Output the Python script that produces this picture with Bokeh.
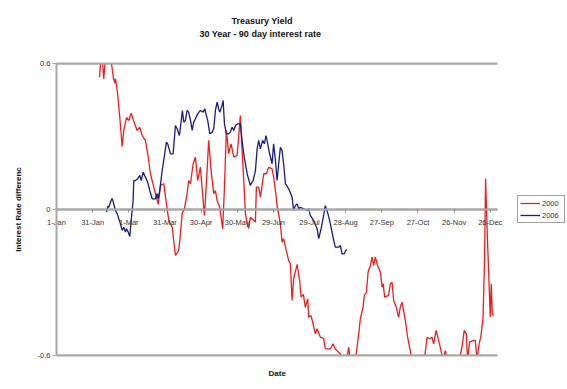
from bokeh.plotting import figure
from bokeh.models import (Range1d, FixedTicker, NumeralTickFormatter, LinearAxis,
                          Legend, LegendItem, Title, ColumnDataSource)
from bokeh.embed import file_html
from bokeh.resources import INLINE

# ---- data (x = days since 1-Jan) ----
tick_days = [0, 30, 60, 90, 120, 150, 180, 210, 240, 270, 300, 330, 360]
tick_labels = ["1-Jan", "31-Jan", "1-Mar", "31-Mar", "30-Apr", "30-May", "29-Jun",
               "29-Jul", "28-Aug", "27-Sep", "27-Oct", "26-Nov", "26-Dec"]
y_ticks = [-0.6, 0, 0.6]
x_start, x_end = 0, 366          # date axis: 1-Jan .. 1-Jan of next year
y_min, y_max = -0.6, 0.6

days_2000 = [35.7, 36.9, 38.2, 39.2, 40.6, 44.8, 47.3, 48.4, 48.9, 50.4,
             52.5, 54.5, 55.8, 58.1, 60.0, 62.0, 63.9, 66.9, 69.1, 71.1,
             73.8, 75.7, 78.0, 80.7, 84.4, 86.3, 89.0, 91.2, 93.2, 96.0,
             98.7, 101.4, 102.9, 104.3, 106.2, 108.4, 109.7, 111.2, 113.4, 115.3,
             117.2, 119.4, 121.7, 122.8, 125.0, 126.3, 128.3, 130.5, 131.9, 133.3,
             135.5, 137.9, 139.4, 141.0, 142.9, 144.9, 147.1, 149.9, 152.6, 154.0,
             155.4, 156.8, 158.2, 159.5, 160.9, 163.7, 165.1, 165.9, 167.8, 169.2,
             172.0, 174.2, 176.1, 178.9, 180.2, 181.7, 183.1, 185.8, 187.2, 188.5,
             190.0, 192.7, 194.1, 195.5, 196.8, 199.7, 201.8, 203.0, 204.9, 206.5,
             208.5, 209.3, 211.3, 212.9, 214.8, 216.3, 219.0, 221.7, 223.1, 227.3,
             229.5, 231.4, 232.8, 235.6, 236.4, 241.1, 242.5, 243.9, 248.0, 249.4,
             250.8, 252.2, 254.4, 255.5, 257.2, 258.6, 260.5, 261.9, 263.2, 264.6,
             266.5, 268.8, 270.2, 271.2, 272.3, 275.6, 277.1, 278.5, 279.8, 282.0,
             283.9, 285.3, 286.8, 289.5, 291.4, 293.6, 295.0, 304.7, 306.1, 307.5,
             309.7, 311.6, 313.0, 315.0, 317.1, 318.5, 320.8, 322.7, 324.1, 333.7,
             335.1, 336.5, 338.4, 340.1, 341.2, 342.8, 346.2, 347.6, 349.0, 350.3,
             352.3, 354.0, 355.3, 356.1, 357.8, 360.0, 360.8, 361.7, 362.7]
vals_2000 = [0.544, 0.62, 0.61, 0.537, 0.62, 0.63, 0.538, 0.52, 0.538, 0.489,
             0.379, 0.259, 0.325, 0.378, 0.366, 0.396, 0.366, 0.325, 0.338, 0.304,
             0.284, 0.229, 0.147, 0.092, 0.021, 0.099, 0.106, 0.025, -0.045, -0.073,
             -0.189, -0.169, -0.099, -0.016, 0.004, 0.065, 0.119, 0.106, 0.188, 0.215,
             0.119, 0.174, 0.037, -0.025, 0.160, 0.284, 0.160, 0.065, 0.078, 0.037,
             0.009, -0.079, 0.092, 0.325, 0.230, 0.270, 0.215, 0.222, 0.386, 0.242,
             0.119, -0.018, -0.058, -0.078, -0.032, -0.045, -0.052, 0.092, 0.092, 0.051,
             0.147, 0.147, 0.174, 0.167, 0.133, 0.078, 0.016, -0.059, -0.134, -0.120,
             -0.155, -0.210, -0.222, -0.374, -0.284, -0.226, -0.292, -0.360, -0.349, -0.402,
             -0.367, -0.443, -0.436, -0.470, -0.511, -0.490, -0.525, -0.530, -0.573, -0.573,
             -0.552, -0.573, -0.580, -0.593, -0.61, -0.61, -0.566, -0.62, -0.62, -0.566,
             -0.511, -0.449, -0.402, -0.353, -0.340, -0.258, -0.230, -0.196, -0.230, -0.196,
             -0.230, -0.258, -0.319, -0.305, -0.360, -0.353, -0.305, -0.299, -0.374, -0.402,
             -0.443, -0.402, -0.381, -0.456, -0.525, -0.580, -0.62, -0.62, -0.586, -0.525,
             -0.531, -0.525, -0.552, -0.497, -0.538, -0.566, -0.62, -0.580, -0.62, -0.62,
             -0.60, -0.566, -0.497, -0.511, -0.62, -0.545, -0.538, -0.538, -0.62, -0.566,
             -0.518, -0.443, -0.196, 0.126, -0.141, -0.443, -0.305, -0.429, -0.436]

days_2006 = [41.5, 42.6, 43.4, 44.8, 46.2, 47.5, 48.9, 50.4, 51.7, 53.1,
             54.5, 55.8, 57.2, 58.1, 59.5, 60.8, 62.0, 63.6, 64.1, 65.5,
             67.4, 69.1, 70.3, 71.9, 73.8, 75.7, 77.4, 79.4, 82.1, 83.5,
             84.4, 85.7, 87.7, 89.6, 91.2, 92.3, 94.6, 96.8, 98.7, 100.1,
             102.0, 103.4, 104.5, 105.6, 107.0, 108.4, 109.7, 111.2, 112.6, 113.9,
             115.3, 117.2, 119.4, 121.7, 123.0, 124.4, 125.5, 127.2, 129.2, 130.5,
             131.9, 133.3, 134.6, 135.5, 137.4, 138.3, 139.4, 141.0, 142.9, 144.3,
             145.7, 147.1, 148.5, 150.4, 152.6, 154.0, 155.4, 158.2, 160.9, 163.2,
             165.1, 166.5, 167.8, 169.2, 171.1, 172.5, 173.9, 175.3, 176.9, 178.9,
             180.2, 181.7, 183.1, 184.4, 185.8, 187.2, 188.5, 190.0, 192.7, 195.5,
             196.8, 198.2, 199.7, 201.0, 202.4, 205.1, 208.0, 209.3, 210.7, 213.4,
             216.3, 217.6, 219.6, 221.2, 223.1, 225.0, 227.3, 229.5, 231.4, 234.2,
             235.6, 237.0, 238.9, 240.0, 241.1]
vals_2006 = [-0.011, 0.014, 0.009, 0.030, 0.046, 0.023, -0.004, -0.018, -0.038, -0.059,
             -0.086, -0.073, -0.093, -0.079, -0.093, -0.111, -0.045, 0.037, 0.119, 0.119,
             0.126, 0.140, 0.119, 0.153, 0.133, 0.112, 0.078, 0.044, 0.044, 0.065,
             0.044, 0.078, 0.160, 0.222, 0.277, 0.270, 0.229, 0.229, 0.345, 0.332,
             0.304, 0.359, 0.407, 0.359, 0.366, 0.407, 0.400, 0.366, 0.325, 0.359,
             0.373, 0.393, 0.407, 0.400, 0.414, 0.386, 0.366, 0.311, 0.318, 0.332,
             0.407, 0.441, 0.414, 0.400, 0.427, 0.448, 0.352, 0.311, 0.311, 0.318,
             0.338, 0.325, 0.345, 0.352, 0.352, 0.284, 0.229, 0.147, 0.099, 0.119,
             0.160, 0.249, 0.284, 0.249, 0.284, 0.270, 0.304, 0.270, 0.229, 0.188,
             0.270, 0.201, 0.119, 0.188, 0.256, 0.242, 0.188, 0.106, 0.085, 0.051,
             -0.004, 0.016, 0.023, 0.003, 0.009, 0.003, -0.004, 0.003, -0.025, -0.045,
             -0.079, -0.120, -0.079, -0.038, 0.016, -0.012, -0.059, -0.114, -0.155, -0.155,
             -0.148, -0.182, -0.182, -0.168, -0.166]

FONT = "Liberation Sans"
GRID = "#a8a8a8"

# frame spans the full width; x range padded so the date axis occupies 56..497 px,
# y range padded so the end tick labels are not clipped
p = figure(width=567, height=389, output_backend="svg", toolbar_location=None,
           x_range=Range1d(-46.48, 424.1), y_range=Range1d(-0.6411, 0.6411),
           x_axis_type=None, y_axis_type=None,
           min_border_left=0, min_border_right=0, min_border_top=53, min_border_bottom=24)
p.outline_line_color = None
p.background_fill_color = "white"
p.xgrid.visible = False
p.ygrid.visible = False

n = len(y_ticks)
# horizontal gridlines limited to the date span (under the data)
p.segment(x0=[x_start] * n, x1=[x_end] * n, y0=y_ticks, y1=y_ticks,
          line_color=GRID, line_width=2)

src00 = ColumnDataSource(dict(x=days_2000, y=vals_2000))
src06 = ColumnDataSource(dict(x=days_2006, y=vals_2006))
r00 = p.line("x", "y", source=src00, line_color="#ee1c1c", line_width=1.3)
r06 = p.line("x", "y", source=src06, line_color="#1a1a80", line_width=1.3)

# plot-area clipping beyond the value axis limits
p.quad(left=[x_start - 1, x_start - 1], right=[x_end + 1, x_end + 1],
       bottom=[y_max, p.y_range.start], top=[p.y_range.end, y_min],
       fill_color="white", line_color=None)
p.segment(x0=[x_start] * 2, x1=[x_end] * 2, y0=[y_min, y_max], y1=[y_min, y_max],
          line_color=GRID, line_width=2)

# y axis at day 0
yaxis = LinearAxis(fixed_location=x_start, ticker=FixedTicker(ticks=y_ticks),
                   formatter=NumeralTickFormatter(format="0.[0]"), bounds=(y_min, y_max))
yaxis.axis_line_color = GRID
yaxis.axis_line_width = 2
yaxis.major_tick_line_color = GRID
yaxis.major_tick_out = 4
yaxis.major_tick_in = 0
yaxis.minor_tick_line_color = None
yaxis.major_label_text_font = FONT
yaxis.major_label_text_font_size = "7.5px"
yaxis.major_label_text_color = "#333333"
yaxis.major_label_standoff = 2
yaxis.axis_label = "Interest Rate differenc"
yaxis.axis_label_text_font = FONT
yaxis.axis_label_text_font_size = "8px"
yaxis.axis_label_text_font_style = "bold"
yaxis.axis_label_text_color = "#111111"
yaxis.axis_label_standoff = 12
p.add_layout(yaxis, "left")

# x axis drawn at y = 0
xaxis = LinearAxis(fixed_location=0, ticker=FixedTicker(ticks=tick_days), bounds=(x_start, x_end),
                   major_label_overrides={d: l for d, l in zip(tick_days, tick_labels)})
xaxis.axis_line_color = GRID
xaxis.axis_line_width = 2
xaxis.major_tick_line_color = "#888888"
xaxis.major_tick_out = 3
xaxis.major_tick_in = 0
xaxis.minor_tick_line_color = None
xaxis.major_label_text_font = FONT
xaxis.major_label_text_font_size = "7.5px"
xaxis.major_label_text_color = "#333333"
xaxis.major_label_standoff = 5
p.add_layout(xaxis, "below")

date_title = Title(text="Date", align="left", text_font=FONT, text_font_size="8px",
                   text_font_style="bold", text_color="#111111", offset=268, standoff=2)
p.add_layout(date_title, "below")

legend = Legend(items=[LegendItem(label="2000", renderers=[r00]),
                       LegendItem(label="2006", renderers=[r06])],
                location=(517, 142))
legend.label_text_font = FONT
legend.label_text_font_size = "7.5px"
legend.label_text_color = "#333333"
legend.glyph_width = 20
legend.glyph_height = 10
legend.label_height = 10
legend.label_standoff = 2
legend.padding = 2
legend.spacing = 2
legend.margin = 0
legend.border_line_color = "#444444"
legend.border_line_width = 1
legend.background_fill_color = "white"
p.add_layout(legend, "center")

spacer = Title(text=" ", text_font_size="1px", standoff=12)
sub = Title(text="30 Year - 90 day interest rate", align="left", text_font=FONT,
            text_font_size="9px", text_font_style="bold", text_color="#111111", offset=199,
            standoff=0)
main = Title(text="Treasury Yield", align="left", text_font=FONT,
             text_font_size="9px", text_font_style="bold", text_color="#111111", offset=231,
             standoff=1)
p.add_layout(spacer, "above")
p.add_layout(sub, "above")
p.add_layout(main, "above")

open("out.html", "w").write(file_html(p, INLINE))
